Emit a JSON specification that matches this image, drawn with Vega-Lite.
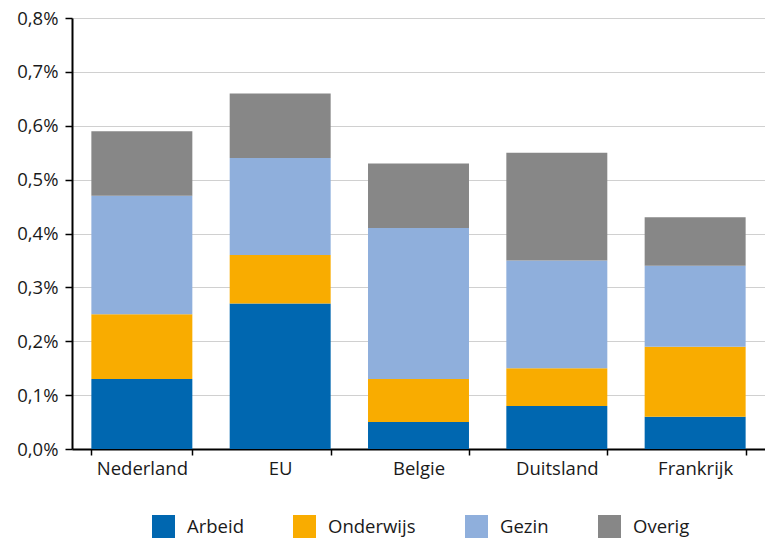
{
  "$schema": "https://vega.github.io/schema/vega-lite/v6.json",
  "width": 693,
  "height": 431,
  "autosize": {"type": "none"},
  "padding": {"left": 72, "top": 18, "right": 0, "bottom": 90},
  "background": "white",
  "data": {
    "values": [
      {"land": "Nederland", "cat": "Arbeid", "k": 1, "v": 0.13},
      {"land": "Nederland", "cat": "Onderwijs", "k": 2, "v": 0.12},
      {"land": "Nederland", "cat": "Gezin", "k": 3, "v": 0.22},
      {"land": "Nederland", "cat": "Overig", "k": 4, "v": 0.12},
      {"land": "EU", "cat": "Arbeid", "k": 1, "v": 0.27},
      {"land": "EU", "cat": "Onderwijs", "k": 2, "v": 0.09},
      {"land": "EU", "cat": "Gezin", "k": 3, "v": 0.18},
      {"land": "EU", "cat": "Overig", "k": 4, "v": 0.12},
      {"land": "Belgie", "cat": "Arbeid", "k": 1, "v": 0.05},
      {"land": "Belgie", "cat": "Onderwijs", "k": 2, "v": 0.08},
      {"land": "Belgie", "cat": "Gezin", "k": 3, "v": 0.28},
      {"land": "Belgie", "cat": "Overig", "k": 4, "v": 0.12},
      {"land": "Duitsland", "cat": "Arbeid", "k": 1, "v": 0.08},
      {"land": "Duitsland", "cat": "Onderwijs", "k": 2, "v": 0.07},
      {"land": "Duitsland", "cat": "Gezin", "k": 3, "v": 0.20},
      {"land": "Duitsland", "cat": "Overig", "k": 4, "v": 0.20},
      {"land": "Frankrijk", "cat": "Arbeid", "k": 1, "v": 0.06},
      {"land": "Frankrijk", "cat": "Onderwijs", "k": 2, "v": 0.13},
      {"land": "Frankrijk", "cat": "Gezin", "k": 3, "v": 0.15},
      {"land": "Frankrijk", "cat": "Overig", "k": 4, "v": 0.09}
    ]
  },
  "mark": {"type": "bar"},
  "encoding": {
    "x": {
      "field": "land",
      "type": "nominal",
      "sort": ["Nederland", "EU", "Belgie", "Duitsland", "Frankrijk"],
      "scale": {"paddingInner": 0.27, "paddingOuter": 0.14},
      "axis": {
        "title": null,
        "labelAngle": 0,
        "tickBand": "extent",
        "grid": false,
        "domainColor": "#000000",
        "domainWidth": 2,
        "tickColor": "#000000",
        "tickWidth": 1.5,
        "tickSize": 6,
        "labelFont": "Open Sans",
        "labelFontSize": 18.5,
        "labelColor": "#1a1a1a",
        "labelPadding": 4
      }
    },
    "y": {
      "field": "v",
      "type": "quantitative",
      "stack": "zero",
      "scale": {"domain": [0, 0.8], "nice": false},
      "axis": {
        "title": null,
        "values": [0, 0.1, 0.2, 0.3, 0.4, 0.5, 0.6, 0.7, 0.8],
        "labelExpr": "replace(format(datum.value, '.1f'), '.', ',') + '%'",
        "grid": true,
        "gridColor": "#d0d0d0",
        "gridWidth": 1,
        "domainColor": "#000000",
        "domainWidth": 2,
        "tickColor": "#000000",
        "tickWidth": 1.5,
        "tickSize": 7,
        "labelFont": "Open Sans",
        "labelFontSize": 18.5,
        "labelColor": "#1a1a1a",
        "labelPadding": 7
      }
    },
    "color": {
      "field": "cat",
      "type": "nominal",
      "scale": {
        "domain": ["Arbeid", "Onderwijs", "Gezin", "Overig"],
        "range": ["#0067b0", "#f9ac00", "#8fafdc", "#878787"]
      },
      "legend": {
        "title": null,
        "orient": "none",
        "legendX": 80,
        "legendY": 497,
        "direction": "horizontal",
        "symbolType": "square",
        "symbolSize": 529,
        "symbolStrokeWidth": 0,
        "labelFont": "Open Sans",
        "labelFontSize": 18.5,
        "labelColor": "#1a1a1a",
        "labelOffset": 12,
        "columnPadding": 49
      }
    },
    "order": {"field": "k", "type": "quantitative", "sort": "ascending"}
  },
  "config": {
    "view": {"stroke": null},
    "axis": {"zindex": 1}
  }
}
